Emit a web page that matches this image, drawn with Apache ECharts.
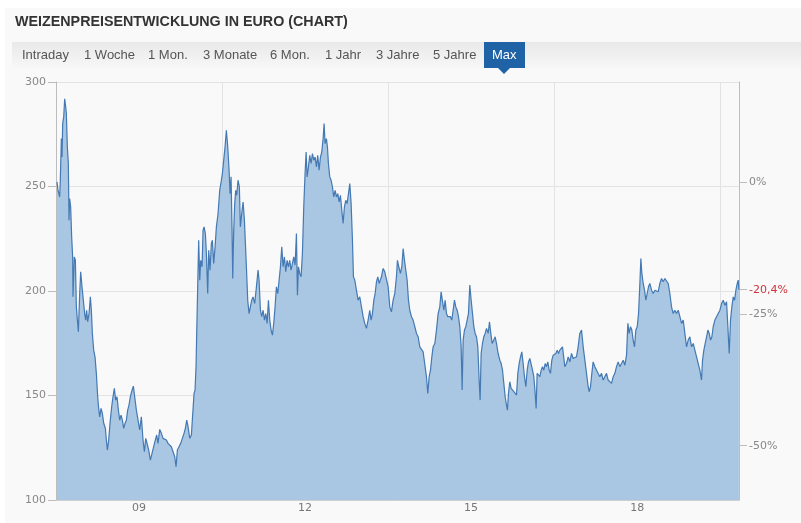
<!DOCTYPE html>
<html>
<head>
<meta charset="utf-8">
<script src="https://cdn.jsdelivr.net/npm/echarts@6/dist/echarts.min.js"></script>
<style>
  body { margin: 0; background: #fff; font-family: "Liberation Sans", Arial, sans-serif; }
  #wrap { position: relative; width: 801px; height: 523px; overflow: hidden; background: #fff; }
  #panel { position: absolute; left: 5px; top: 8px; right: 0; bottom: 0; background: #f9f9f9; }
  #chart { position: absolute; left: 0; top: 0; width: 801px; height: 523px; }
  h1 { position: absolute; left: 15px; top: 13px; margin: 0; font-size: 14.3px; font-weight: bold; color: #333; }
  #tabs { position: absolute; left: 12px; top: 42px; right: 0; height: 26px; background: linear-gradient(#e9e9e9, #f7f7f7); }
  .tab { position: absolute; top: 0; height: 26px; line-height: 26px; font-size: 13px; color: #555; white-space: nowrap; }
  .tab.active { background: #1f63a6; color: #fff; padding: 0 8px; }
  .tab.active:after { content: ''; position: absolute; left: 50%; bottom: -6px; margin-left: -6px;
    border-left: 6px solid transparent; border-right: 6px solid transparent; border-top: 6px solid #1f63a6; }
</style>
</head>
<body>
<div id="wrap">
  <div id="panel"></div>
  <div id="chart"></div>
  <h1>WEIZENPREISENTWICKLUNG IN EURO (CHART)</h1>
  <div id="tabs"></div>
</div>
<script>
// Zeitraum-Tabs
const tabNames = ['Intraday', '1 Woche', '1 Mon.', '3 Monate', '6 Mon.', '1 Jahr', '3 Jahre', '5 Jahre', 'Max'];
const tabLeft = [10, 72, 136, 191, 258, 313, 364, 421, 472];

// Jahr-Beschriftungen der x-Achse
const labelYears = [2009, 2012, 2015, 2018];
const xStart = 2007.5;
const xEnd = 2019.84;

// Prozent-Achse rechts (Basis = 0%)
const basePrice = 252;
const percentTicks = [0, -0.25, -0.5];

// Weizenpreis in Euro, Zeitpunkte als Dezimaljahr
const years = [
  2007.518, 2007.536, 2007.566, 2007.578, 2007.597, 2007.609, 2007.621, 2007.639, 2007.657, 2007.675,
  2007.687, 2007.705, 2007.723, 2007.735, 2007.747, 2007.765, 2007.783, 2007.801, 2007.807, 2007.831,
  2007.850, 2007.868, 2007.886, 2007.904, 2007.928, 2007.946, 2007.970, 2007.994, 2008.018, 2008.036,
  2008.054, 2008.072, 2008.097, 2008.121, 2008.139, 2008.157, 2008.181, 2008.205, 2008.229, 2008.253,
  2008.271, 2008.289, 2008.313, 2008.338, 2008.362, 2008.392, 2008.410, 2008.428, 2008.452, 2008.476,
  2008.506, 2008.530, 2008.554, 2008.578, 2008.602, 2008.627, 2008.651, 2008.675, 2008.699, 2008.723,
  2008.747, 2008.771, 2008.795, 2008.819, 2008.843, 2008.874, 2008.898, 2008.922, 2008.952, 2008.982,
  2009.012, 2009.042, 2009.072, 2009.097, 2009.121, 2009.145, 2009.175, 2009.205, 2009.235, 2009.265,
  2009.295, 2009.319, 2009.343, 2009.374, 2009.404, 2009.434, 2009.464, 2009.494, 2009.524, 2009.554,
  2009.584, 2009.615, 2009.645, 2009.669, 2009.693, 2009.723, 2009.753, 2009.783, 2009.813, 2009.837,
  2009.862, 2009.886, 2009.916, 2009.946, 2009.976, 2009.994, 2010.012, 2010.030, 2010.042, 2010.060,
  2010.078, 2010.097, 2010.115, 2010.139, 2010.157, 2010.175, 2010.199, 2010.217, 2010.241, 2010.259,
  2010.283, 2010.307, 2010.325, 2010.349, 2010.374, 2010.398, 2010.428, 2010.458, 2010.488, 2010.506,
  2010.530, 2010.554, 2010.578, 2010.603, 2010.627, 2010.645, 2010.663, 2010.681, 2010.693, 2010.711,
  2010.729, 2010.747, 2010.765, 2010.789, 2010.813, 2010.831, 2010.855, 2010.880, 2010.904, 2010.922,
  2010.940, 2010.964, 2010.988, 2011.012, 2011.036, 2011.060, 2011.090, 2011.121, 2011.151, 2011.169,
  2011.193, 2011.217, 2011.242, 2011.266, 2011.290, 2011.314, 2011.338, 2011.362, 2011.386, 2011.410,
  2011.434, 2011.458, 2011.482, 2011.507, 2011.531, 2011.555, 2011.579, 2011.603, 2011.627, 2011.651,
  2011.675, 2011.699, 2011.723, 2011.747, 2011.772, 2011.796, 2011.820, 2011.844, 2011.862, 2011.880,
  2011.904, 2011.928, 2011.952, 2011.976, 2012.000, 2012.019, 2012.037, 2012.061, 2012.085, 2012.109,
  2012.133, 2012.157, 2012.181, 2012.205, 2012.229, 2012.253, 2012.278, 2012.302, 2012.326, 2012.344,
  2012.362, 2012.386, 2012.404, 2012.422, 2012.446, 2012.470, 2012.494, 2012.519, 2012.543, 2012.567,
  2012.591, 2012.615, 2012.639, 2012.663, 2012.687, 2012.711, 2012.735, 2012.760, 2012.784, 2012.808,
  2012.832, 2012.856, 2012.874, 2012.898, 2012.928, 2012.958, 2012.988, 2013.019, 2013.049, 2013.079,
  2013.109, 2013.139, 2013.169, 2013.193, 2013.217, 2013.242, 2013.266, 2013.290, 2013.314, 2013.338,
  2013.380, 2013.410, 2013.440, 2013.470, 2013.501, 2013.531, 2013.561, 2013.591, 2013.621, 2013.651,
  2013.669, 2013.693, 2013.723, 2013.748, 2013.772, 2013.796, 2013.820, 2013.844, 2013.868, 2013.892,
  2013.922, 2013.952, 2013.983, 2014.013, 2014.043, 2014.073, 2014.103, 2014.133, 2014.163, 2014.193,
  2014.217, 2014.242, 2014.266, 2014.290, 2014.314, 2014.344, 2014.374, 2014.404, 2014.434, 2014.458,
  2014.483, 2014.507, 2014.531, 2014.555, 2014.579, 2014.603, 2014.627, 2014.651, 2014.675, 2014.699,
  2014.723, 2014.748, 2014.772, 2014.796, 2014.820, 2014.838, 2014.856, 2014.880, 2014.904, 2014.928,
  2014.952, 2014.976, 2015.001, 2015.025, 2015.049, 2015.073, 2015.097, 2015.121, 2015.145, 2015.163,
  2015.181, 2015.205, 2015.229, 2015.254, 2015.278, 2015.308, 2015.332, 2015.356, 2015.380, 2015.410,
  2015.434, 2015.458, 2015.488, 2015.519, 2015.543, 2015.567, 2015.591, 2015.615, 2015.639, 2015.657,
  2015.675, 2015.699, 2015.723, 2015.748, 2015.772, 2015.796, 2015.820, 2015.844, 2015.868, 2015.892,
  2015.916, 2015.940, 2015.964, 2015.989, 2016.013, 2016.037, 2016.061, 2016.085, 2016.109, 2016.133,
  2016.157, 2016.175, 2016.193, 2016.217, 2016.242, 2016.266, 2016.290, 2016.314, 2016.338, 2016.362,
  2016.386, 2016.410, 2016.434, 2016.458, 2016.483, 2016.507, 2016.531, 2016.555, 2016.579, 2016.603,
  2016.651, 2016.693, 2016.723, 2016.754, 2016.784, 2016.814, 2016.844, 2016.874, 2016.904, 2016.934,
  2016.964, 2016.995, 2017.025, 2017.055, 2017.085, 2017.115, 2017.133, 2017.157, 2017.181, 2017.205,
  2017.236, 2017.266, 2017.296, 2017.326, 2017.356, 2017.386, 2017.416, 2017.446, 2017.476, 2017.507,
  2017.537, 2017.567, 2017.597, 2017.627, 2017.657, 2017.687, 2017.717, 2017.748, 2017.778, 2017.808,
  2017.832, 2017.856, 2017.880, 2017.904, 2017.928, 2017.952, 2017.976, 2018.001, 2018.025, 2018.049,
  2018.067, 2018.085, 2018.109, 2018.133, 2018.157, 2018.181, 2018.205, 2018.229, 2018.260, 2018.290,
  2018.320, 2018.350, 2018.380, 2018.410, 2018.440, 2018.470, 2018.501, 2018.531, 2018.561, 2018.591,
  2018.621, 2018.651, 2018.681, 2018.711, 2018.742, 2018.772, 2018.802, 2018.832, 2018.862, 2018.892,
  2018.922, 2018.952, 2018.982, 2019.013, 2019.043, 2019.073, 2019.103, 2019.133, 2019.163, 2019.181,
  2019.205, 2019.229, 2019.254, 2019.278, 2019.302, 2019.326, 2019.350, 2019.374, 2019.404, 2019.434,
  2019.464, 2019.495, 2019.525, 2019.555, 2019.585, 2019.615, 2019.639, 2019.663, 2019.687, 2019.711,
  2019.736, 2019.760, 2019.784, 2019.808, 2019.826, 2019.838
];
const prices = [
  252.2, 248.2, 245.0, 253.0, 272.9, 264.1, 280.1, 283.3, 292.0, 288.1,
  284.9, 268.9, 261.0, 233.9, 244.2, 240.2, 225.9, 216.3, 197.2, 216.3,
  214.7, 192.4, 186.1, 180.5, 198.8, 209.2, 202.0, 195.6, 189.2, 186.1,
  190.8, 185.3, 189.2, 197.2, 190.8, 179.7, 171.7, 168.5, 160.6, 149.4,
  143.8, 139.8, 143.8, 141.4, 136.7, 134.3, 128.7, 123.9, 128.7, 136.7,
  144.6, 149.4, 153.4, 147.8, 149.4, 143.0, 138.2, 140.6, 138.2, 134.3,
  136.7, 138.2, 143.0, 145.4, 149.4, 152.6, 154.5, 149.4, 143.0, 138.2,
  133.5, 139.8, 128.7, 123.1, 129.5, 127.1, 123.9, 119.1, 122.3, 125.5,
  128.7, 131.1, 127.1, 133.8, 131.9, 129.5, 130.3, 128.7, 127.1, 126.3,
  125.5, 124.7, 120.7, 115.9, 123.9, 125.5, 127.1, 129.5, 131.9, 134.3,
  138.2, 135.1, 129.5, 131.1, 130.3, 151.0, 152.6, 163.8, 179.7, 202.0,
  224.3, 205.2, 214.7, 211.6, 229.1, 230.7, 227.5, 218.0, 198.8, 219.5,
  210.0, 222.7, 224.3, 213.2, 221.1, 230.7, 237.1, 248.2, 253.0, 256.2,
  262.6, 268.9, 276.9, 268.9, 257.8, 246.6, 254.6, 229.1, 206.0, 229.1,
  241.8, 248.2, 245.8, 253.0, 249.8, 230.7, 237.1, 242.6, 233.9, 222.7,
  211.6, 195.6, 189.2, 192.4, 195.6, 197.2, 194.0, 202.0, 210.0, 205.2,
  190.8, 187.7, 190.8, 186.1, 189.2, 184.5, 195.6, 186.1, 181.3, 178.9,
  184.5, 192.4, 202.0, 198.8, 205.2, 211.6, 221.1, 211.6, 216.3, 209.2,
  214.7, 211.6, 214.7, 210.0, 213.2, 216.3, 212.4, 227.5, 198.0, 211.6,
  208.4, 206.8, 217.9, 240.2, 256.2, 266.5, 254.6, 259.4, 264.9, 261.0,
  265.7, 262.6, 264.1, 259.4, 264.9, 257.8, 264.1, 266.5, 272.9, 280.1,
  270.5, 272.9, 268.9, 261.0, 254.6, 253.0, 249.8, 245.0, 248.2, 245.0,
  246.6, 242.6, 245.8, 238.7, 232.3, 240.2, 243.4, 241.8, 246.6, 251.4,
  241.8, 224.3, 206.8, 205.2, 200.4, 195.6, 197.2, 192.4, 187.7, 184.5,
  182.1, 186.1, 190.8, 186.1, 189.2, 195.6, 198.8, 204.4, 206.8, 203.6,
  206.8, 210.8, 209.2, 210.0, 202.0, 192.4, 190.0, 195.6, 198.8, 206.8,
  214.7, 211.6, 208.4, 211.6, 220.3, 214.7, 214.7, 205.2, 195.6, 190.8,
  187.7, 186.1, 182.9, 179.7, 178.1, 173.3, 173.3, 170.9, 170.1, 159.0,
  151.0, 159.0, 162.1, 168.5, 173.3, 174.9, 181.3, 189.2, 192.4, 199.6,
  198.8, 190.8, 195.6, 189.2, 187.7, 186.9, 187.7, 186.1, 190.8, 195.6,
  192.4, 190.8, 187.7, 182.9, 173.3, 152.6, 176.5, 181.3, 182.9, 186.1,
  189.2, 202.8, 195.6, 189.2, 182.9, 179.7, 178.1, 173.3, 157.4, 147.8,
  170.1, 174.9, 178.1, 179.7, 182.1, 179.7, 185.3, 179.7, 174.9, 176.5,
  178.1, 174.9, 170.1, 166.9, 165.3, 162.1, 155.8, 149.4, 145.4, 143.0,
  151.0, 156.6, 153.4, 154.2, 151.8, 152.6, 150.2, 160.6, 165.3, 168.5,
  170.9, 165.3, 159.0, 154.2, 162.1, 166.1, 167.7, 166.9, 162.1, 159.0,
  151.0, 143.8, 160.6, 161.3, 159.0, 162.1, 163.8, 162.1, 165.3, 163.8,
  166.1, 162.1, 160.6, 166.9, 169.3, 170.1, 170.1, 171.7, 170.1, 171.7,
  173.3, 163.8, 165.3, 168.5, 166.1, 170.1, 167.7, 168.5, 168.5, 173.3,
  179.7, 181.3, 173.3, 166.9, 160.6, 154.2, 151.8, 154.2, 160.6, 166.1,
  163.8, 162.1, 161.3, 159.0, 160.6, 157.4, 159.0, 160.6, 157.4, 156.6,
  155.8, 159.0, 160.6, 163.8, 166.1, 163.8, 165.3, 166.9, 164.5, 169.3,
  184.5, 179.7, 182.9, 181.3, 176.5, 173.3, 181.3, 182.9, 189.2, 203.6,
  215.5, 208.4, 203.6, 200.4, 195.6, 198.8, 202.0, 203.6, 200.4, 198.8,
  200.4, 201.2, 199.6, 203.6, 206.0, 204.4, 206.0, 205.2, 203.6, 198.8,
  192.4, 189.2, 190.8, 189.2, 190.8, 187.7, 184.5, 186.1, 179.7, 173.3,
  176.5, 178.1, 173.3, 174.9, 171.7, 168.5, 165.3, 162.1, 157.4, 166.9,
  171.7, 174.9, 178.1, 181.3, 179.7, 176.5, 178.1, 182.9, 186.1, 186.9,
  189.2, 190.8, 194.0, 195.6, 193.2, 194.8, 182.9, 170.1, 186.1, 192.4,
  197.2, 195.6, 200.4, 203.6, 205.2, 200.6
];

const tabsEl = document.getElementById('tabs');
tabNames.forEach((name, i) => {
  const t = document.createElement('div');
  t.className = 'tab' + (name === 'Max' ? ' active' : '');
  t.style.left = tabLeft[i] + 'px';
  t.textContent = name;
  tabsEl.appendChild(t);
});

const lastPrice = prices[prices.length - 1];
const rightValues = percentTicks.map(p => basePrice * (1 + p)).concat([lastPrice]);

function fmtPercent(v) {
  const p = (v / basePrice - 1) * 100;
  if (Math.abs(v - lastPrice) < 1e-6) {
    return '{red|' + p.toFixed(1).replace('.', ',') + '%}';
  }
  return Math.round(p) + '%';
}

const chart = echarts.init(document.getElementById('chart'));
const seriesData = years.map((y, i) => [y - xStart, prices[i]]);

const option = {
  animation: false,
  textStyle: { fontFamily: 'DejaVu Sans' },
  grid: { left: 56, right: 62, top: 82, bottom: 23 },
  xAxis: {
    type: 'value',
    min: 0,
    max: xEnd - xStart,
    interval: 3,
    axisLine: { show: true, onZero: false, lineStyle: { color: '#cfcfcf' } },
    axisTick: { show: false },
    axisLabel: {
      customValues: labelYears.map(y => y - xStart),
      formatter: v => String(Math.round(v + xStart) % 100).padStart(2, '0'),
      color: '#777',
      fontSize: 11,
      margin: 3
    },
    splitLine: { show: true, lineStyle: { color: '#e3e3e3' } }
  },
  yAxis: [
    {
      type: 'value',
      min: 100,
      max: 300,
      interval: 50,
      axisLine: { show: true, lineStyle: { color: '#bdbdbd' } },
      axisTick: { show: true, length: 8, lineStyle: { color: '#bdbdbd' } },
      axisLabel: { color: '#888', fontSize: 11, margin: 10 },
      splitLine: { show: true, lineStyle: { color: '#e3e3e3' } }
    },
    {
      type: 'value',
      position: 'right',
      min: 100,
      max: 300,
      axisLine: { show: true, lineStyle: { color: '#bdbdbd' } },
      axisTick: { show: true, length: 8, customValues: rightValues, lineStyle: { color: '#bdbdbd' } },
      axisLabel: {
        customValues: rightValues,
        formatter: fmtPercent,
        color: '#888',
        fontSize: 11,
        margin: 10,
        rich: { red: { color: '#d0343c', fontSize: 11 } }
      },
      splitLine: { show: false }
    }
  ],
  series: [
    {
      type: 'line',
      data: seriesData,
      showSymbol: false,
      lineStyle: { color: '#4479b3', width: 1.2 },
      areaStyle: { color: '#a9c6e2', opacity: 1 }
    }
  ]
};

chart.setOption(option);
</script>
</body>
</html>
